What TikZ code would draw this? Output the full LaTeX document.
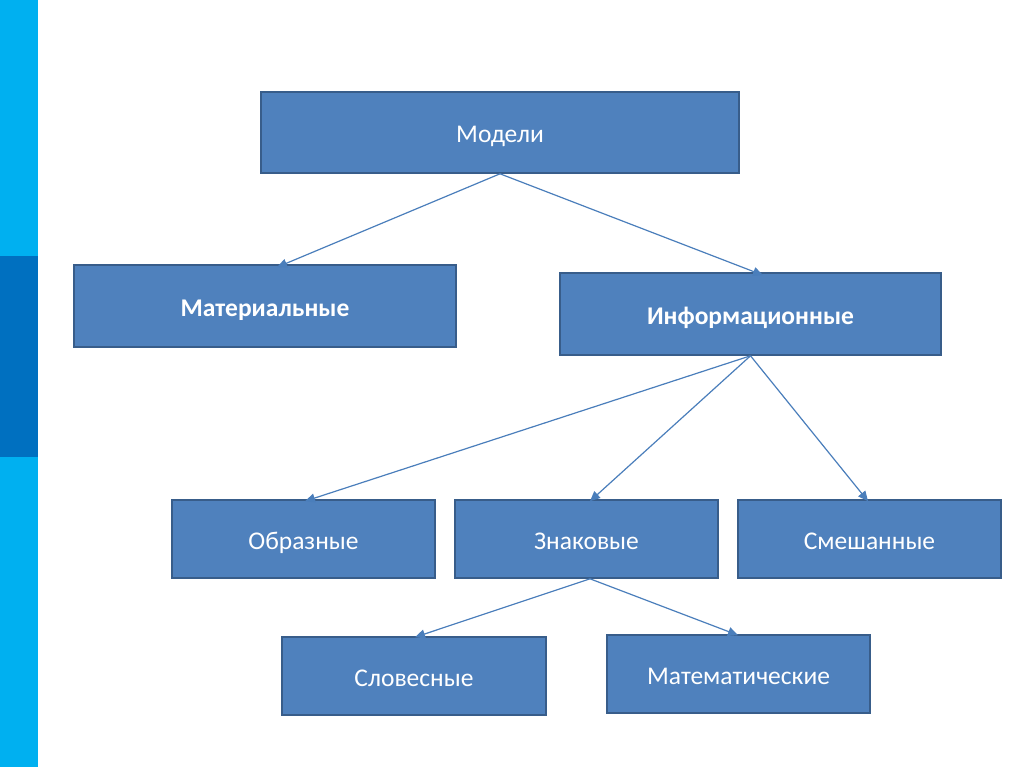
\documentclass[tikz,border=0pt]{standalone}
\usepackage{fontspec}
\setmainfont{Carlito}
\usetikzlibrary{arrows.meta}
\definecolor{boxfill}{HTML}{4F81BD}
\definecolor{boxline}{HTML}{385D8A}
\definecolor{arrowc}{HTML}{4A7EBB}
\definecolor{barlight}{HTML}{00B0F0}
\definecolor{bardark}{HTML}{0070C0}
\begin{document}
\begin{tikzpicture}[x=1pt,y=-1pt,
  mbox/.style={draw=boxline,line width=1.6pt,fill=boxfill,text=white,
    minimum width=#1,inner sep=0pt,text height=24pt,text depth=4pt,
    font=\fontsize{25.5}{30}\selectfont},
  conn/.style={draw=arrowc,line width=1.2pt,-{Triangle[length=10pt,width=9pt]}}]
\useasboundingbox (0,0) rectangle (1024,767);
\fill[white] (0,0) rectangle (1024,767);
\fill[barlight] (0,0) rectangle (38,767);
\fill[bardark] (0,256) rectangle (38,457);
% boxes
\node[mbox=478pt,minimum height=81pt] (mod) at (500,132.5) {Модели};
\node[mbox=382pt,minimum height=82pt,font=\fontsize{25.5}{30}\selectfont\bfseries] (mat) at (265,306) {Материальные};
\node[mbox=381pt,minimum height=82pt,font=\fontsize{25.5}{30}\selectfont\bfseries] (inf) at (750.5,314) {Информационные};
\node[mbox=263pt,minimum height=78pt] (obr) at (303.5,539) {Образные};
\node[mbox=263pt,minimum height=78pt] (zn) at (586.5,539) {Знаковые};
\node[mbox=263pt,minimum height=78pt] (sm) at (869.5,539) {Смешанные};
\node[mbox=264pt,minimum height=78pt] (slo) at (414,676) {Словесные};
\node[mbox=263pt,minimum height=78pt] (mat2) at (738.5,674) {Математические};
% connectors
\draw[conn] (mod.south) -- ([xshift=12pt,yshift=-3pt]mat.north);
\draw[conn] (mod.south) -- ([xshift=12.5pt,yshift=-3pt]inf.north);
\draw[conn] (inf.south) -- ([xshift=1.5pt,yshift=-2pt]obr.north);
\draw[conn] (inf.south) -- ([xshift=3.5pt,yshift=-2pt]zn.north);
\draw[conn] (inf.south) -- ([xshift=-1.5pt,yshift=-2pt]sm.north);
\draw[conn] ([xshift=3.5pt]zn.south) -- ([xshift=1pt,yshift=-1pt]slo.north);
\draw[conn] ([xshift=3.5pt]zn.south) -- ([xshift=-0.5pt,yshift=-1pt]mat2.north);
\end{tikzpicture}
\end{document}
